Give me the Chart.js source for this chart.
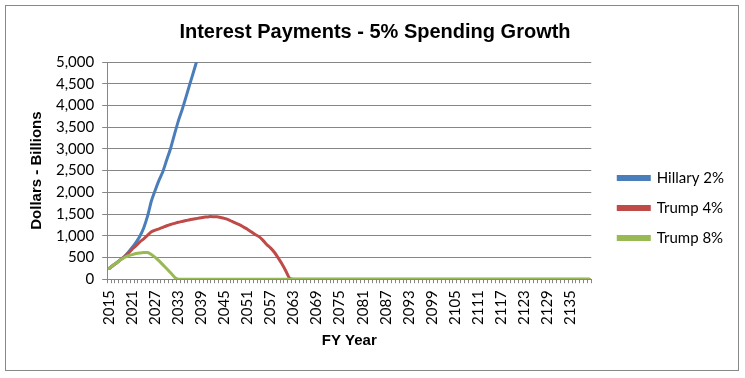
<!DOCTYPE html>
<html>
<head>
<meta charset="utf-8">
<script src="https://cdn.jsdelivr.net/npm/chart.js@4"></script>
<style>
  body { margin: 0; background: #fff; }
  #wrap { position: relative; width: 745px; height: 378px; }
  #frame { position: absolute; left: 5px; top: 5px; width: 732px; height: 364px; border: 1px solid #888; pointer-events: none; }
</style>
</head>
<body>
<div id="wrap">
  <canvas id="chartInterest" width="745" height="378"></canvas>
  <div id="frame"></div>
</div>
<script>
const firstYear = 2015
const lastYear = 2140

// 2015 .. 2040, the line leaves the top of the plot after ~2038
const hillary2 = [247, 315, 380, 450, 520, 620, 730, 850, 990, 1180, 1450, 1800, 2050, 2280, 2480, 2750,
    3010, 3330, 3640, 3900, 4190, 4490, 4780, 5080, 5400, 5750]

// 2015 .. 2140
const trump4 = [247, 315, 380, 450, 520, 600, 690, 770, 860, 930, 1010, 1090, 1130, 1160, 1195, 1230,
    1260, 1285, 1310, 1330, 1350, 1370, 1385, 1400, 1415, 1430, 1440, 1440, 1435, 1420, 1400,
    1370, 1330, 1290, 1250, 1200, 1150, 1090, 1030, 980, 900, 800, 720, 620, 490, 350, 190, 20,
    0, 0, 0, 0, 0, 0, 0, 0, 0, 0, 0, 0, 0, 0, 0, 0, 0, 0, 0, 0, 0, 0, 0, 0, 0, 0, 0, 0, 0, 0,
    0, 0, 0, 0, 0, 0, 0, 0, 0, 0, 0, 0, 0, 0, 0, 0, 0, 0, 0, 0, 0, 0, 0, 0, 0, 0, 0, 0, 0, 0,
    0, 0, 0, 0, 0, 0, 0, 0, 0, 0, 0, 0, 0, 0, 0, 0, 0, 0]

// 2015 .. 2140
const trump8 = [247, 315, 380, 450, 500, 540, 565, 590, 605, 615, 615, 570, 500, 420, 330, 240, 150, 50,
    0, 0, 0, 0, 0, 0, 0, 0, 0, 0, 0, 0, 0, 0, 0, 0, 0, 0, 0, 0, 0, 0, 0, 0, 0, 0, 0, 0, 0, 0,
    0, 0, 0, 0, 0, 0, 0, 0, 0, 0, 0, 0, 0, 0, 0, 0, 0, 0, 0, 0, 0, 0, 0, 0, 0, 0, 0, 0, 0, 0,
    0, 0, 0, 0, 0, 0, 0, 0, 0, 0, 0, 0, 0, 0, 0, 0, 0, 0, 0, 0, 0, 0, 0, 0, 0, 0, 0, 0, 0, 0,
    0, 0, 0, 0, 0, 0, 0, 0, 0, 0, 0, 0, 0, 0, 0, 0, 0, 0]

let years = []
for (let y = firstYear; y <= lastYear; y++) {
    years.push(String(y))
}

const gridColor = '#868686'
const tickFont = { family: 'Lato', size: 15 }
const boldFont = { family: 'Liberation Sans', size: 15, weight: 'bold' }

let canvas = document.getElementById('chartInterest')

let myChart = new Chart(canvas, {
    type: 'line',
    data: {
        labels: years,
        datasets: [
            // later series drawn on top, like Excel
            { label: 'Hillary 2%', data: hillary2, borderColor: '#4A7EBB', backgroundColor: '#4A7EBB', order: 3 },
            { label: 'Trump 4%', data: trump4, borderColor: '#BE4B48', backgroundColor: '#BE4B48', order: 2 },
            { label: 'Trump 8%', data: trump8, borderColor: '#98B954', backgroundColor: '#98B954', order: 1 }
        ]
    },
    options: {
        responsive: false,
        animation: false,
        elements: {
            point: { radius: 0 },
            line: { borderWidth: 3, tension: 0.2, borderCapStyle: 'round' }
        },
        layout: {
            padding: { left: 16, right: 11, top: 6, bottom: 28 }
        },
        scales: {
            x: {
                offset: true,
                grid: { display: true, drawOnChartArea: false, offset: true, tickLength: 4, color: gridColor },
                border: { color: gridColor },
                ticks: {
                    autoSkip: false,
                    maxRotation: 90,
                    minRotation: 90,
                    padding: 7,
                    color: '#000',
                    font: tickFont,
                    callback: function (val, i) {
                        return i % 6 === 0 ? years[i] : ''
                    }
                },
                title: { display: true, text: 'FY Year', color: '#000', font: boldFont, padding: { top: 0, bottom: 0 } }
            },
            y: {
                min: 0,
                max: 5000,
                grid: { color: gridColor, tickLength: 5 },
                border: { color: gridColor },
                ticks: {
                    stepSize: 500,
                    padding: 8,
                    color: '#000',
                    font: tickFont,
                    callback: function (val) {
                        return val.toLocaleString('en-US')
                    }
                },
                title: { display: true, text: 'Dollars - Billions', color: '#000', font: boldFont, padding: { top: 12, bottom: 2 } }
            },
            // empty spacer between plot and legend
            gap: {
                type: 'linear',
                position: 'right',
                grid: { display: false },
                border: { display: false },
                ticks: { display: false },
                afterFit: function (scale) {
                    scale.width = 12
                }
            }
        },
        plugins: {
            legend: {
                position: 'right',
                maxWidth: 200,
                title: { display: true, text: ' ', font: { size: 10 }, padding: { top: 0, bottom: 48 } },
                labels: {
                    boxWidth: 31,
                    boxHeight: 3,
                    padding: 15,
                    color: '#000',
                    font: tickFont,
                    sort: function (a, b) {
                        return a.datasetIndex - b.datasetIndex
                    }
                }
            },
            title: {
                display: true,
                text: 'Interest Payments - 5% Spending Growth',
                color: '#000',
                font: { family: 'Liberation Sans', size: 20, weight: 'bold' },
                padding: { top: 14, bottom: 18 }
            },
            tooltip: { enabled: false }
        }
    }
});
</script>
</body>
</html>
